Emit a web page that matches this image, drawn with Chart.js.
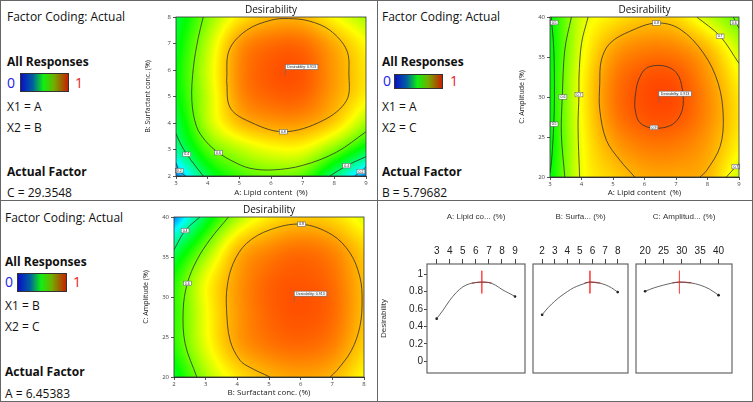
<!DOCTYPE html>
<html>
<head>
<meta charset="utf-8">
<script src="https://cdn.jsdelivr.net/npm/chart.js@4.4.1/dist/chart.umd.min.js"></script>
<style>
  body { margin: 0; width: 753px; height: 402px; position: relative; overflow: hidden; background: #fff; font-family: 'Open Sans', sans-serif; }
  .q { position: absolute; box-sizing: border-box; border: 1px solid #666; }
  .t { position: absolute; font-size: 12px; line-height: 14px; color: #111; white-space: nowrap; }
  .b { font-weight: bold; }
  .n { position: absolute; font-size: 14px; line-height: 16px; }
  .bar { position: absolute; box-sizing: border-box; border: 1px solid #333;
         background: linear-gradient(to right, #0a10c8 0%, #0060a0 25%, #10f010 48%, #70b000 70%, #c82000 100%); }
  canvas { position: absolute; }
</style>
</head>
<body>
<div class="q" style="left:0;top:0;width:378px;height:201px"></div>
<div class="q" style="left:377px;top:0;width:376px;height:201px"></div>
<div class="q" style="left:0;top:200px;width:378px;height:202px"></div>
<div class="q" style="left:377px;top:200px;width:376px;height:202px"></div>

<div class="t" style="left:7px;top:10px">Factor Coding: Actual</div>
<div class="t b" style="left:7px;top:55px">All Responses</div>
<div class="n" style="left:7px;top:75px;color:#2323e6">0</div>
<div class="bar" style="left:20px;top:73px;width:49px;height:19px"></div>
<div class="n" style="left:75px;top:75px;color:#e62323">1</div>
<div class="t" style="left:7px;top:100px">X1 = A</div>
<div class="t" style="left:7px;top:121px">X2 = B</div>
<div class="t b" style="left:7px;top:165px">Actual Factor</div>
<div class="t" style="left:7px;top:186px">C = 29.3548</div>

<div class="t" style="left:382px;top:10px">Factor Coding: Actual</div>
<div class="t b" style="left:382px;top:55px">All Responses</div>
<div class="n" style="left:383px;top:73px;color:#2323e6">0</div>
<div class="bar" style="left:394px;top:74px;width:49px;height:15px"></div>
<div class="n" style="left:450px;top:73px;color:#e62323">1</div>
<div class="t" style="left:382px;top:100px">X1 = A</div>
<div class="t" style="left:382px;top:121px">X2 = C</div>
<div class="t b" style="left:382px;top:165px">Actual Factor</div>
<div class="t" style="left:382px;top:186px">B = 5.79682</div>

<div class="t" style="left:5px;top:211px">Factor Coding: Actual</div>
<div class="t b" style="left:5px;top:255px">All Responses</div>
<div class="n" style="left:5px;top:274px;color:#2323e6">0</div>
<div class="bar" style="left:17px;top:273px;width:50px;height:19px"></div>
<div class="n" style="left:73px;top:274px;color:#e62323">1</div>
<div class="t" style="left:5px;top:299px">X1 = B</div>
<div class="t" style="left:5px;top:320px">X2 = C</div>
<div class="t b" style="left:5px;top:365px">Actual Factor</div>
<div class="t" style="left:5px;top:387px">A = 6.45383</div>

<canvas id="ab" width="236" height="200" style="left:140px;top:0"></canvas>
<canvas id="ac" width="238" height="200" style="left:514px;top:0"></canvas>
<canvas id="bc" width="238" height="200" style="left:138px;top:200px"></canvas>
<canvas id="pa" width="152" height="180" style="left:377px;top:200px"></canvas>
<canvas id="pb" width="103" height="180" style="left:529px;top:200px"></canvas>
<canvas id="pc" width="104" height="180" style="left:632px;top:200px"></canvas>

<script>
'use strict';

const FONT = "'Open Sans', sans-serif";
const NUMFONT = "'Liberation Sans', Arial, sans-serif";

// factor grids used for the surfaces
const lipid = [3, 4, 5, 6, 7, 8, 9];
const surfactant = [2, 3, 4, 5, 6, 7, 8];
const amplitude = [20, 24, 28, 32, 36, 40];

// tick labels
const lipidTicks = [3, 4, 5, 6, 7, 8, 9];
const surfTicks = [2, 3, 4, 5, 6, 7, 8];
const ampTicks = [20, 25, 30, 35, 40];
const desTicks = [0, 0.2, 0.4, 0.6, 0.8, 1];

// desirability, rows = surfactant, cols = lipid (C = 29.3548)
const desAB = [
  [0.12, 0.43, 0.55, 0.59, 0.57, 0.38, 0.12],
  [0.35, 0.57, 0.66, 0.71, 0.71, 0.61, 0.46],
  [0.43, 0.66, 0.79, 0.83, 0.83, 0.77, 0.64],
  [0.48, 0.67, 0.84, 0.89, 0.89, 0.82, 0.73],
  [0.49, 0.68, 0.85, 0.905, 0.905, 0.83, 0.745],
  [0.47, 0.66, 0.83, 0.88, 0.88, 0.81, 0.72],
  [0.44, 0.61, 0.74, 0.795, 0.795, 0.72, 0.64]
];
// rows = amplitude, cols = lipid (B = 5.79682)
const desAC = [
  [0.49, 0.705, 0.77, 0.81, 0.815, 0.797, 0.67],
  [0.48, 0.71, 0.82, 0.865, 0.865, 0.825, 0.73],
  [0.49, 0.72, 0.86, 0.91, 0.91, 0.85, 0.75],
  [0.49, 0.72, 0.86, 0.91, 0.91, 0.84, 0.73],
  [0.48, 0.70, 0.82, 0.86, 0.855, 0.795, 0.67],
  [0.49, 0.68, 0.74, 0.775, 0.76, 0.67, 0.57]
];
// rows = amplitude, cols = surfactant (A = 6.45383)
const desBC = [
  [0.46, 0.64, 0.745, 0.80, 0.82, 0.80, 0.72],
  [0.53, 0.70, 0.82, 0.87, 0.885, 0.86, 0.77],
  [0.53, 0.71, 0.83, 0.89, 0.91, 0.885, 0.79],
  [0.52, 0.71, 0.83, 0.89, 0.905, 0.88, 0.79],
  [0.40, 0.61, 0.79, 0.85, 0.875, 0.85, 0.77],
  [0.12, 0.44, 0.64, 0.74, 0.775, 0.76, 0.69]
];

// contour lines
const linesAB = [
  [[4.6, 5.6], [4.68, 6.75], [5.23, 7.5], [6.0, 7.88], [6.55, 7.94], [7.2, 7.85], [7.86, 7.5], [8.39, 6.75], [8.46, 5.87], [8.39, 4.86], [7.65, 4.1], [6.39, 3.67], [5.23, 4.1], [4.7, 4.6], [4.6, 5.6]],
  [[3.86, 8], [3.7, 7.2], [3.55, 6.1], [3.5, 4.86], [3.65, 3.86], [3.95, 3.3], [4.34, 2.88], [4.8, 2.55], [5.34, 2.29], [6.07, 2.23], [7.0, 2.4], [8.07, 2.9], [9, 3.67]],
  [[3, 3.6], [3.15, 3.2], [3.34, 2.82], [3.6, 2.4], [3.86, 2]],
  [[7.86, 2], [8.39, 2.39], [9, 2.73]],
  [[3, 2.5], [3.1, 2.2], [3.3, 2]],
  [[8.65, 2], [8.84, 2.17], [9, 2.35]]
];
const tagsAB = [[6.39, 3.67, '0.8'], [4.34, 2.88, '0.6'], [3.34, 2.82, '0.4'], [3.1, 2.2, '0.2'], [8.39, 2.39, '0.4'], [8.84, 2.17, '0.2']];

const linesAC = [
  [[5.7, 30], [5.8, 32], [6.06, 33.6], [6.6, 33.9], [7.02, 33.0], [7.2, 31], [7.2, 28.4], [6.9, 26.6], [6.3, 26.1], [5.85, 26.8], [5.7, 28.5], [5.7, 30]],
  [[5.69, 20], [5.22, 22.1], [4.79, 24.6], [4.58, 28.4], [4.58, 31.7], [4.63, 34.6], [4.9, 36.7], [5.53, 38.2], [6.38, 39.25], [7.12, 38.5], [7.87, 35.5], [8.34, 31.7], [8.5, 27.5], [8.4, 23.8], [7.97, 20.8], [7.76, 20]],
  [[4.21, 40], [4.0, 36.7], [3.92, 32.5], [3.92, 30.3], [3.89, 26.3], [3.94, 20]],
  [[7.66, 40], [8.4, 37.6], [9, 34.2]],
  [[8.6, 20], [8.9, 21.3], [9, 21.7]],
  [[3.68, 40], [3.47, 35.9], [3.39, 30], [3.36, 25.4], [3.47, 20]],
  [[8.82, 40], [9, 38.6]],
  [[3.04, 40], [3.12, 36], [3.14, 30], [3.12, 26.6], [3.05, 22], [3.0, 20.5]]
];
const tagsAC = [[6.3, 26.2, '0.9'], [6.38, 39.25, '0.8'], [3.92, 30.3, '0.7'], [8.4, 37.6, '0.7'], [8.9, 21.3, '0.7'], [3.41, 30, '0.6'], [8.85, 39.3, '0.6'], [3.13, 39.3, '0.5'], [3.13, 26.6, '0.5']];

const linesBC = [
  [[5.03, 20], [4.4, 21.2], [4.08, 22.1], [3.77, 24.6], [3.66, 28.4], [3.68, 31.3], [3.87, 34.2], [4.29, 36.7], [5.03, 38.4], [6.03, 39.1], [6.98, 37.8], [7.56, 35.5], [7.87, 32.5], [7.94, 29.6], [7.87, 26.3], [7.6, 23.3], [7.14, 20.8], [6.93, 20]],
  [[3.72, 40], [3.14, 37.2], [2.72, 34.6], [2.42, 31.7], [2.29, 28.4], [2.35, 24.2], [2.72, 20]],
  [[2, 35.9], [2.35, 38.3], [2.82, 40]]
];
const tagsBC = [[6.03, 39.1, '0.8'], [2.42, 31.7, '0.6'], [2.35, 38.3, '0.4']];

// optimum
const optimum = {A: 6.45383, B: 5.79682, C: 29.3548, D: '0.913'};

// one-factor desirability profiles
const profAx = [3, 3.5, 4, 4.5, 5, 5.5, 6, 6.45, 7, 7.5, 8, 8.5, 9];
const profAy = [0.49, 0.59, 0.70, 0.79, 0.855, 0.89, 0.905, 0.91, 0.905, 0.875, 0.825, 0.785, 0.745];
const profBx = [2, 2.5, 3, 3.5, 4, 4.5, 5, 5.5, 5.8, 6.5, 7, 7.5, 8];
const profBy = [0.535, 0.62, 0.69, 0.75, 0.80, 0.845, 0.875, 0.9, 0.91, 0.9, 0.88, 0.845, 0.795];
const profCx = [20, 22.5, 25, 27.5, 29.35, 32.5, 35, 37.5, 40];
const profCy = [0.805, 0.845, 0.875, 0.9, 0.91, 0.9, 0.875, 0.83, 0.76];
// red "near optimum" stretch of each profile
const redAx = [5.7, 6, 6.45, 7, 7.2];
const redAy = [0.898, 0.905, 0.91, 0.905, 0.898];
const redBx = [5.38, 5.8, 6.2, 6.62];
const redBy = [0.903, 0.91, 0.907, 0.9];
const redCx = [27.4, 29.35, 31, 32.6];
const redCy = [0.902, 0.91, 0.907, 0.902];
const markerSpan = [1.04, 0.78];

const palette = [[0, 0, 0, 255], [0.25, 0, 255, 255], [0.5, 0, 255, 0], [0.72, 255, 255, 0], [1, 255, 0, 0]];

function colorOf(v) {
  v = Math.max(0, Math.min(1, v));
  for (let i = 1; i < palette.length; i++) {
    if (v <= palette[i][0]) {
      const a = palette[i - 1], b = palette[i];
      const t = (v - a[0]) / (b[0] - a[0]);
      return [a[1] + (b[1] - a[1]) * t, a[2] + (b[2] - a[2]) * t, a[3] + (b[3] - a[3]) * t];
    }
  }
  return [255, 0, 0];
}

// catmull-rom
function cr(p0, p1, p2, p3, t) {
  return p1 + 0.5 * t * (p2 - p0 + t * (2 * p0 - 5 * p1 + 4 * p2 - p3 + t * (3 * (p1 - p2) + p3 - p0)));
}

function sample(z, gx, gy) {
  const rows = z.length, cols = z[0].length;
  gx = Math.max(0, Math.min(cols - 1, gx));
  gy = Math.max(0, Math.min(rows - 1, gy));
  const ix = Math.min(cols - 2, Math.floor(gx)), iy = Math.min(rows - 2, Math.floor(gy));
  const at = (r, i) => i < 0 ? 2 * r[0] - r[1] : i >= cols ? 2 * r[cols - 1] - r[cols - 2] : r[i];
  const rowVal = j => {
    const r = z[j];
    return cr(at(r, ix - 1), at(r, ix), at(r, ix + 1), at(r, ix + 2), gx - ix);
  };
  const v = [];
  for (let j = iy - 1; j <= iy + 2; j++) {
    if (j < 0) v.push(2 * rowVal(0) - rowVal(1));
    else if (j >= rows) v.push(2 * rowVal(rows - 1) - rowVal(rows - 2));
    else v.push(rowVal(j));
  }
  return cr(v[0], v[1], v[2], v[3], gy - iy);
}

function drawTag(ctx, x, y, text) {
  ctx.font = '3.5px ' + NUMFONT;
  const w = ctx.measureText(text).width + 3, h = 4.5;
  ctx.fillStyle = '#fff';
  ctx.fillRect(x - w / 2, y - h / 2, w, h);
  ctx.strokeStyle = '#555';
  ctx.lineWidth = 0.5;
  ctx.strokeRect(x - w / 2, y - h / 2, w, h);
  ctx.fillStyle = '#222';
  ctx.textAlign = 'center';
  ctx.textBaseline = 'middle';
  ctx.fillText(text, x, y + 0.2);
}

function surface(cfg) {
  return {
    id: 'surface',
    beforeDatasetsDraw(chart) {
      const {left, top, right, bottom} = chart.chartArea;
      const w = Math.round(right - left), h = Math.round(bottom - top);
      const off = document.createElement('canvas');
      off.width = w;
      off.height = h;
      const octx = off.getContext('2d');
      const img = octx.createImageData(w, h);
      const sx = chart.scales.x, sy = chart.scales.y;
      for (let py = 0; py < h; py++) {
        const gy = (sy.getValueForPixel(top + py + 0.5) - cfg.ys[0]) / (cfg.ys[1] - cfg.ys[0]);
        for (let px = 0; px < w; px++) {
          const gx = (sx.getValueForPixel(left + px + 0.5) - cfg.xs[0]) / (cfg.xs[1] - cfg.xs[0]);
          const c = colorOf(sample(cfg.z, gx, gy));
          const k = (py * w + px) * 4;
          img.data[k] = c[0];
          img.data[k + 1] = c[1];
          img.data[k + 2] = c[2];
          img.data[k + 3] = 255;
        }
      }
      octx.putImageData(img, 0, 0);
      chart.ctx.drawImage(off, left, top, w, h);
    },
    afterDatasetsDraw(chart) {
      const ctx = chart.ctx;
      const sx = chart.scales.x, sy = chart.scales.y;
      const a = chart.chartArea;
      ctx.save();
      cfg.tags.forEach(t => drawTag(ctx, sx.getPixelForValue(t[0]), sy.getPixelForValue(t[1]), t[2]));
      // optimum flag
      const px = sx.getPixelForValue(cfg.opt[0]), py = sy.getPixelForValue(cfg.opt[1]);
      ctx.font = '3.6px ' + NUMFONT;
      const text = 'Desirability: ' + optimum.D;
      const w = ctx.measureText(text).width + 4;
      ctx.strokeStyle = '#666';
      ctx.lineWidth = 0.6;
      ctx.beginPath();
      ctx.moveTo(px, py);
      ctx.lineTo(px, py - 6);
      ctx.stroke();
      ctx.fillStyle = '#fff';
      ctx.fillRect(px, py - 11, w, 5);
      ctx.strokeRect(px, py - 11, w, 5);
      ctx.fillStyle = '#222';
      ctx.textAlign = 'left';
      ctx.textBaseline = 'middle';
      ctx.fillText(text, px + 2, py - 8.4);
      ctx.strokeStyle = '#333';
      ctx.lineWidth = 0.8;
      ctx.strokeRect(a.left, a.top, a.right - a.left, a.bottom - a.top);
      ctx.restore();
    }
  };
}

function axis(min, max, ticks, title, size, horizontal) {
  return {
    type: 'linear', min, max,
    afterBuildTicks: s => { s.ticks = ticks.map(v => ({value: v})); },
    afterFit: s => { if (horizontal) s.height = size; else s.width = size; },
    ticks: {font: {family: FONT, size: 6}, color: '#444', padding: horizontal ? 1 : 2, autoSkip: false, maxRotation: 0},
    grid: {drawOnChartArea: false, tickLength: 3, color: '#555'},
    border: {color: '#333'},
    title: {
      display: true, text: title, color: '#222',
      font: {family: FONT, size: horizontal ? 8 : 7},
      padding: horizontal ? {top: 0, bottom: 2} : {top: 4, bottom: 0}
    }
  };
}

function contourChart(id, cfg) {
  const datasets = cfg.lines.map(pts => ({
    data: pts.map(p => ({x: p[0], y: p[1]})),
    showLine: true, borderColor: '#2e2e2e', borderWidth: 0.8, pointRadius: 0, tension: 0.35
  }));
  return new Chart(document.getElementById(id), {
    type: 'scatter',
    data: {datasets},
    options: {
      responsive: false, animation: false, events: [],
      layout: {padding: {left: 0, right: cfg.padRight, top: 0, bottom: 0}},
      plugins: {
        legend: {display: false}, tooltip: {enabled: false},
        title: {display: true, text: 'Desirability', fullSize: false, color: '#111',
          font: {family: FONT, size: 10, weight: 'normal'}, padding: {top: 4, bottom: 1}}
      },
      scales: {
        x: axis(cfg.xs[0], cfg.xs[cfg.xs.length - 1], cfg.xTicks, cfg.xTitle, cfg.xh, true),
        y: axis(cfg.ys[0], cfg.ys[cfg.ys.length - 1], cfg.yTicks, cfg.yTitle, 36, false)
      }
    },
    plugins: [surface(cfg)]
  });
}

contourChart('ab', {z: desAB, xs: lipid, ys: surfactant, xTicks: lipidTicks, yTicks: surfTicks,
  xTitle: 'A: Lipid content  (%)', yTitle: 'B: Surfactant conc. (%)', lines: linesAB, tags: tagsAB,
  opt: [optimum.A, optimum.B], padRight: 10, xh: 24});
contourChart('ac', {z: desAC, xs: lipid, ys: amplitude, xTicks: lipidTicks, yTicks: ampTicks,
  xTitle: 'A: Lipid content  (%)', yTitle: 'C: Amplitude (%)', lines: linesAC, tags: tagsAC,
  opt: [optimum.A, optimum.C], padRight: 13, xh: 23});
contourChart('bc', {z: desBC, xs: surfactant, ys: amplitude, xTicks: surfTicks, yTicks: ampTicks,
  xTitle: 'B: Surfactant conc. (%)', yTitle: 'C: Amplitude (%)', lines: linesBC, tags: tagsBC,
  opt: [optimum.B, optimum.C], padRight: 12, xh: 23});

const xy = (xs, ys) => xs.map((x, i) => ({x, y: ys[i]}));

const panelFrame = {
  id: 'panelFrame',
  afterDatasetsDraw(chart) {
    const a = chart.chartArea, ctx = chart.ctx;
    ctx.save();
    ctx.strokeStyle = '#666';
    ctx.lineWidth = 1.2;
    ctx.strokeRect(a.left, a.top, a.right - a.left, a.bottom - a.top);
    ctx.restore();
  }
};

function profileChart(id, cfg) {
  const n = cfg.px.length;
  return new Chart(document.getElementById(id), {
    type: 'scatter',
    data: {
      datasets: [
        {data: xy(cfg.px, cfg.py), showLine: true, borderColor: '#555', borderWidth: 0.9, pointRadius: 0, cubicInterpolationMode: 'monotone'},
        {data: xy(cfg.rx, cfg.ry), showLine: true, borderColor: '#ff2a2a', borderWidth: 1.1, pointRadius: 0, cubicInterpolationMode: 'monotone'},
        {data: [{x: cfg.opt, y: markerSpan[0]}, {x: cfg.opt, y: markerSpan[1]}], showLine: true, borderColor: '#ff5050', borderWidth: 1, pointRadius: 0},
        {data: [{x: cfg.px[0], y: cfg.py[0]}, {x: cfg.px[n - 1], y: cfg.py[n - 1]}], pointRadius: 1.3, backgroundColor: '#111', borderWidth: 0}
      ]
    },
    options: {
      responsive: false, animation: false, events: [],
      layout: {padding: {left: cfg.first ? 0 : 1, right: 1, top: 0, bottom: 7}},
      plugins: {legend: {display: false}, tooltip: {enabled: false}},
      scales: {
        x: {
          type: 'linear', position: 'top', min: cfg.min, max: cfg.max,
          afterBuildTicks: s => { s.ticks = cfg.ticks.map(v => ({value: v})); },
          afterFit: s => { s.height = 64; },
          ticks: {font: {family: NUMFONT, size: 10}, color: '#222', padding: 2, autoSkip: false, maxRotation: 0},
          grid: {drawOnChartArea: false, tickLength: 5, color: '#444'},
          border: {display: false},
          title: {display: true, text: cfg.title, color: '#333', font: {family: NUMFONT, size: 8}, padding: {top: 12, bottom: 0}}
        },
        y: {
          type: 'linear', display: cfg.first, min: -0.135, max: 1.118,
          afterBuildTicks: s => { s.ticks = desTicks.map(v => ({value: v})); },
          afterFit: s => { s.width = cfg.first ? 50 : 0; },
          ticks: {font: {family: NUMFONT, size: 10}, color: '#222', padding: 1, autoSkip: false, callback: v => String(v)},
          grid: {drawOnChartArea: false, tickLength: 3, color: '#444'},
          border: {display: false},
          title: {display: true, text: 'Desirability', color: '#333', font: {family: NUMFONT, size: 8}, padding: {top: 2, bottom: 0}}
        }
      }
    },
    plugins: [panelFrame]
  });
}

profileChart('pa', {px: profAx, py: profAy, rx: redAx, ry: redAy, opt: optimum.A, min: 2.257, max: 9.765,
  ticks: lipidTicks, title: 'A: Lipid co... (%)', first: true});
profileChart('pb', {px: profBx, py: profBy, rx: redBx, ry: redBy, opt: optimum.B, min: 1.275, max: 8.82,
  ticks: surfTicks, title: 'B: Surfa... (%)', first: false});
profileChart('pc', {px: profCx, py: profCy, rx: redCx, ry: redCy, opt: optimum.C, min: 17.51, max: 43.67,
  ticks: ampTicks, title: 'C: Amplitud... (%)', first: false});
</script>
</body>
</html>
